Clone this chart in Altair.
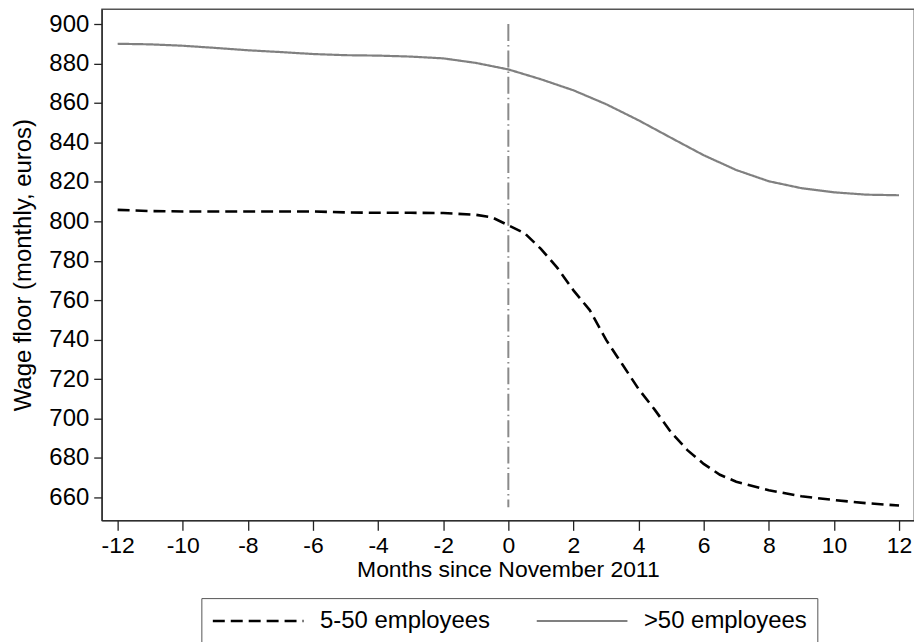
import altair as alt
import pandas as pd

# ---- data ----
series_names = ["5-50 employees", ">50 employees"]

months_small = [-12, -11, -10, -9, -8, -7, -6, -5, -4, -3, -2, -1, -0.5, 0,
                0.5, 1, 1.5, 2, 2.5, 3, 3.5, 4, 4.5, 5, 5.5, 6, 6.5, 7,
                8, 9, 10, 11, 12]
floor_small = [805.8, 805.2, 805.0, 805.0, 805.0, 805.0, 805.0, 804.5, 804.3,
               804.3, 804.2, 803.3, 802.0, 798.0, 794.0, 786.0, 776.5, 765.0,
               755.0, 740.0, 727.5, 715.0, 704.4, 693.0, 684.0, 677.0, 671.5,
               668.0, 663.7, 660.6, 658.7, 657.1, 655.9]

months_large = [-12, -11, -10, -9, -8, -7, -6, -5, -4, -3, -2, -1, 0,
                1, 2, 3, 4, 5, 6, 7, 8, 9, 10, 11, 12]
floor_large = [890.0, 889.7, 889.0, 887.9, 886.7, 885.8, 884.8, 884.2, 884.0,
               883.5, 882.6, 880.3, 877.0, 872.0, 866.4, 859.4, 851.2, 842.3,
               833.5, 826.0, 820.3, 816.8, 814.7, 813.5, 813.2]

x_ticks = list(range(-12, 13, 2))
y_ticks = list(range(660, 901, 20))
event_month = [0]
event_span = [900, 655]

FONT = "Liberation Sans"

df = pd.concat([
    pd.DataFrame({"month": months_small, "floor": floor_small, "series": series_names[0]}),
    pd.DataFrame({"month": months_large, "floor": floor_large, "series": series_names[1]}),
], ignore_index=True)

rule_df = pd.DataFrame({"month": event_month, "top": [event_span[0]], "bottom": [event_span[1]]})

x_scale = alt.Scale(domain=[-12.49, 12.46], nice=False, zero=False)
y_scale = alt.Scale(domain=[648.4, 907.6], nice=False, zero=False)

legend = alt.Legend(
    orient="none", legendX=100, legendY=591, direction="horizontal", title=None,
    symbolType="stroke", symbolSize=8281, symbolStrokeWidth=2, clipHeight=26,
    labelFontSize=24, labelFont=FONT, labelColor="black", labelOffset=15,
    labelLimit=400, columnPadding=45, padding=10,
    strokeColor="#555555", fillColor="white",
)

lines = alt.Chart(df).mark_line().encode(
    x=alt.X("month:Q", scale=x_scale,
            axis=alt.Axis(values=x_ticks, title="Months since November 2011",
                          grid=False, tickSize=10, labelPadding=4, titlePadding=1,
                          labelExpr="'' + datum.value", labelFlush=False,
                          labelFontSize=23, titleFontSize=23)),
    y=alt.Y("floor:Q", scale=y_scale,
            axis=alt.Axis(values=y_ticks, title="Wage floor (monthly, euros)",
                          grid=False, tickSize=8, labelPadding=5, titlePadding=13)),
    color=alt.Color("series:N", scale=alt.Scale(domain=series_names, range=["#000000", "#808080"]),
                    legend=legend),
    strokeDash=alt.StrokeDash("series:N", scale=alt.Scale(domain=series_names, range=[[12, 6], [1, 0]]),
                              legend=legend),
    strokeWidth=alt.StrokeWidth("series:N", scale=alt.Scale(domain=series_names, range=[2.6, 2.2]),
                                legend=None),
)

rule = alt.Chart(rule_df).mark_rule(color="#8a8a8a", strokeWidth=2, strokeDash=[17, 4, 1.5, 4]).encode(
    x=alt.X("month:Q", scale=x_scale),
    y=alt.Y("top:Q", scale=y_scale),
    y2="bottom:Q",
)

chart = alt.layer(rule, lines).properties(
    width=815, height=513,
    autosize=alt.AutoSizeParams(type="none"),
    padding={"left": 94, "top": 0, "right": 0, "bottom": 121},
).configure_view(
    stroke="#555555", strokeWidth=1.3
).configure_axis(
    labelFont=FONT, titleFont=FONT, labelFontSize=24, titleFontSize=24,
    labelColor="black", titleColor="black", titleFontWeight="normal",
    domainColor="#222222", tickColor="#222222", domainWidth=1.3, tickWidth=1.3,
)

chart.save("out.html", embed_options={"renderer": "svg", "actions": False})
